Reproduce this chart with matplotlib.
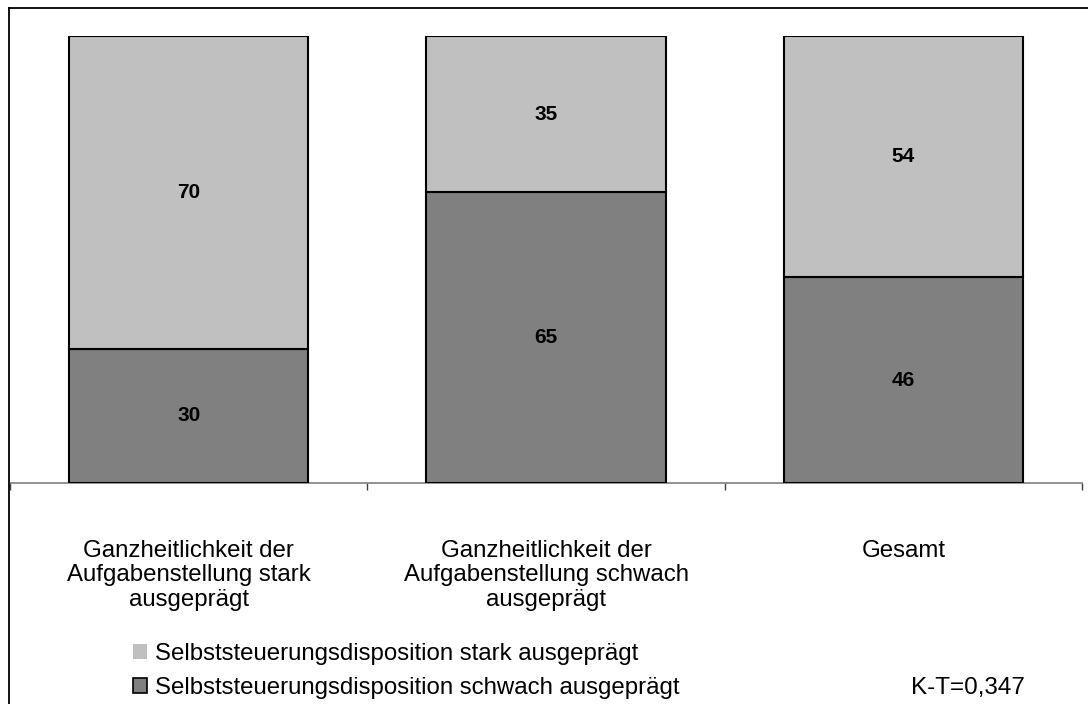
import matplotlib
matplotlib.use("Agg")
import matplotlib.pyplot as plt
from matplotlib.patches import Patch
from matplotlib.lines import Line2D

plt.rcParams['font.family'] = ['Liberation Sans', 'DejaVu Sans']

categories = [
    "Ganzheitlichkeit der\nAufgabenstellung stark\nausgeprägt",
    "Ganzheitlichkeit der\nAufgabenstellung schwach\nausgeprägt",
    "Gesamt",
]
schwach = [30, 65, 46]   # Selbststeuerungsdisposition schwach ausgeprägt
stark = [70, 35, 54]     # Selbststeuerungsdisposition stark ausgeprägt
series_labels = ["Selbststeuerungsdisposition stark ausgeprägt",
                 "Selbststeuerungsdisposition schwach ausgeprägt"]
note = "K-T=0,347"

W, H = 1088, 704
fig = plt.figure(figsize=(W / 100, H / 100), dpi=100)
fig.patch.set_facecolor("white")

ax = fig.add_axes([10 / W, 1 - 483 / H, (1082 - 10) / W, (483 - 36) / H])
x = list(range(len(categories)))
light, dark = "#C0C0C0", "#808080"

ax.bar(x, schwach, width=0.67, color=dark, edgecolor="black", linewidth=1.5, zorder=3)
ax.bar(x, stark, bottom=schwach, width=0.67, color=light, edgecolor="black",
       linewidth=1.5, zorder=3)

for xi, s, t in zip(x, schwach, stark):
    ax.text(xi, s / 2, f"{s}", ha="center", va="center", fontsize=15, fontweight="bold")
    ax.text(xi, s + t / 2, f"{t}", ha="center", va="center", fontsize=15, fontweight="bold")

ax.set_xlim(-0.5, len(categories) - 0.5)
ax.set_ylim(0, 100)
for side in ("top", "right", "left"):
    ax.spines[side].set_visible(False)
ax.spines["bottom"].set_color("#808080")
ax.spines["bottom"].set_linewidth(1.2)
ax.set_yticks([])

ax.set_xticks(x)
ax.set_xticklabels(categories, fontsize=17.3, linespacing=1.15)
ax.tick_params(axis="x", which="major", length=0, pad=41)
ax.set_xticks([i - 0.5 for i in range(len(categories) + 1)], minor=True)
ax.tick_params(axis="x", which="minor", length=5, width=1, color="#404040", direction="out")

handles = [Patch(facecolor=light, edgecolor=light, linewidth=0),
           Patch(facecolor=dark, edgecolor="black", linewidth=1.2)]
fig.legend(handles, series_labels, loc="upper left",
           bbox_to_anchor=(133 / W, 1 - 643 / H), frameon=False,
           fontsize=17.3, handlelength=0.58, handleheight=0.58, handletextpad=0.33,
           labelspacing=0.5, borderaxespad=0, borderpad=0)

fig.text(968 / W, 1 - 688 / H, note, ha="center", va="center", fontsize=17.5)

# outer frame (top and left edges)
fig.add_artist(Line2D([9 / W, 1.0], [1 - 8 / H, 1 - 8 / H], color="black", lw=1.3,
                      transform=fig.transFigure))
fig.add_artist(Line2D([9 / W, 9 / W], [0, 1 - 8 / H], color="black", lw=1.3,
                      transform=fig.transFigure))

fig.savefig("out.png", dpi=100)
